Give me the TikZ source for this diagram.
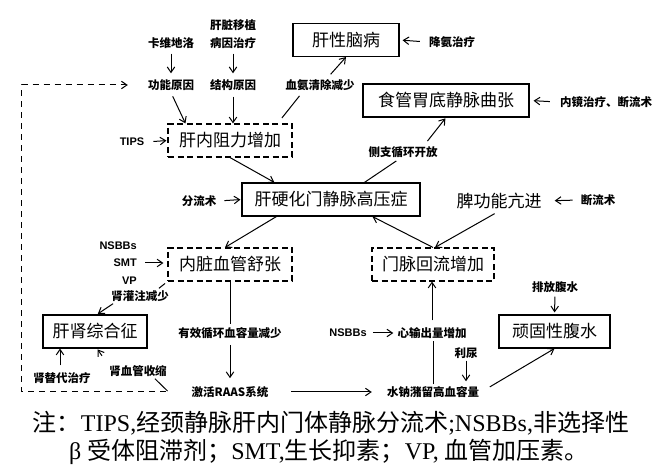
\documentclass[tikz,border=0pt]{standalone}
\usepackage{fontspec}
\setmainfont{Liberation Serif}
\setsansfont{Liberation Sans}
\newfontfamily\cjk{Noto Sans CJK SC}
\usetikzlibrary{arrows.meta}

\begin{document}
\begin{tikzpicture}[x=1pt,y=-1pt,>={Straight Barb[length=5.5pt,width=7.5pt]},
  box/.style={draw,line width=1.1pt,minimum height=33pt,inner sep=0pt,font=\cjk\fontsize{17}{17}\selectfont},
  dbox/.style={box,dash pattern=on 6pt off 3.5pt},
  lbl/.style={inner sep=2pt,font=\cjk\bfseries\fontsize{11.5}{18}\selectfont},
  eng/.style={inner sep=2pt,font=\sffamily\bfseries\fontsize{11}{17.5}\selectfont},
  note/.style={inner sep=0pt,font=\fontsize{24}{29}\selectfont},
  link/.style={line width=1pt},
  arr/.style={link,->},
  fb/.style={link,dash pattern=on 6pt off 5pt}]
  \useasboundingbox (0,0) rectangle (665,465);
  % causes of raised intrahepatic resistance
  \node[lbl] (kwdl) at (171,43) {卡维地洛};
  \node[lbl,align=center] (gzyz) at (233,34) {肝脏移植\\病因治疗};
  \node[lbl] (gnyy) at (171,85) {功能原因};
  \node[lbl] (jgyy) at (233,85) {结构原因};
  \node[lbl] (xaqc) at (320,85) {血氨清除减少};
  \node[box,minimum width=106] (gxnb) at (346,40) {肝性脑病};
  \node[lbl] (jazl) at (452,42) {降氨治疗};
  \node[box,minimum width=166] (sgqz) at (446,100.5) {食管胃底静脉曲张};
  \node[lbl] (njzl) at (606,102) {内镜治疗、断流术};
  \node[lbl] (czxh) at (403,152) {侧支循环开放};
  \node[dbox,minimum width=124] (gnzl) at (230,140.5) {肝内阻力增加};
  \node[eng] (tips) at (132,142) {TIPS};
  % portal hypertension
  \node[box,minimum width=178] (gyh) at (331,199.5) {肝硬化门静脉高压症};
  \node[lbl] (fls) at (199,201) {分流术};
  \node[inner sep=2pt,font=\cjk\fontsize{17}{17}\selectfont] (pgn) at (499,201) {脾功能亢进};
  \node[lbl] (dls) at (598,200) {断流术};
  \node[dbox,minimum width=122] (mmhl) at (433,264.5) {门脉回流增加};
  \node[dbox,minimum width=124] (nzxg) at (230,264.5) {内脏血管舒张};
  \node[eng,align=right,anchor=east] (drug) at (139,263) {NSBBs\\SMT\\VP};
  % kidney and ascites
  \node[lbl] (sgzj) at (140,296) {肾灌注减少};
  \node[box,minimum width=104] (gszh) at (95,331.5) {肝肾综合征};
  \node[lbl] (yxxr) at (230,333) {有效循环血容量减少};
  \node[lbl] (sxjs) at (62,378) {肾替代治疗};
  \node[lbl] (sxgs) at (138,371) {肾血管收缩};
  \node[lbl] (raas) at (230,392) {激活RAAS系统};
  \node[lbl] (snzl) at (433,392) {水钠潴留高血容量};
  \node[lbl] (xscl) at (432,333) {心输出量增加};
  \node[eng] (nsbb) at (348,333) {NSBBs};
  \node[lbl] (ln) at (466,353) {利尿};
  \node[box,minimum width=111] (gxfs) at (554.5,331.5) {顽固性腹水};
  \node[lbl] (pffs) at (555,287) {排放腹水};
  % footnote
  \node[note] (cap1) at (331,423) {{\cjk 注：}TIPS,{\cjk 经颈静脉肝内门体静脉分流术};NSBBs,{\cjk 非选择性}};
  \node[note] (cap2) at (329,452) {β {\cjk 受体阻滞剂；}SMT,{\cjk 生长抑素；}VP, {\cjk 血管加压素。}};

  \draw[arr,shorten <=3pt,shorten >=4pt] (kwdl) -- (gnyy);
  \draw[arr,shorten <=3pt,shorten >=4pt] (gzyz) -- (jgyy);
  \draw[arr,shorten <=4pt] (gnyy.south) -- ([xshift=18]gnzl.north west);
  \draw[arr,shorten <=4pt] (jgyy.south) -- (jgyy.south |- gnzl.north);
  \draw[link,shorten <=7pt,shorten >=4pt] ([xshift=-15]gnzl.north east) -- ([xshift=-18]xaqc.south);
  \draw[arr,shorten <=4pt] ([xshift=8]xaqc.north) -- (gxnb.south);
  \draw[arr,shorten <=7pt,shorten >=3pt] (jazl.west) -- (gxnb.east);
  \draw[arr] (gnzl.south) -- ([xshift=33]gyh.north west);
  \draw[arr,shorten <=7pt,shorten >=1pt] (tips.east) -- (gnzl.west);
  \draw[link,shorten >=2pt] ([xshift=123]gyh.north west) -- ([xshift=-5]czxh.south);
  \draw[arr,shorten <=4pt,shorten >=1pt] ([xshift=22]czxh.north) -- (sgqz.south);
  \draw[arr,shorten <=8pt,shorten >=4pt] (njzl.west) -- (sgqz.east);
  \draw[arr,shorten <=6pt,shorten >=1pt] (fls.east) -- (gyh.west);
  \draw[arr,shorten <=6pt,shorten >=11pt] (dls.west) -- (pgn.east);
  \draw[arr,shorten <=5pt] (pgn.south) -- ([xshift=2]mmhl.north);
  \draw[arr] (mmhl.north) -- ([xshift=131]gyh.south west);
  \draw[arr] ([xshift=35]gyh.south west) -- ([xshift=-5]nzxg.north);
  \draw[arr,shorten <=6pt,shorten >=4pt] (drug.east) -- (drug.east -| nzxg.west);
  \draw[link,shorten <=3pt] (nzxg.south west) -- ([xshift=-12]sgzj.north east);
  \draw[arr,shorten >=1pt] ([xshift=4]sgzj.south west) -- ([xshift=2]gszh.north);
  \draw[link,shorten >=1pt] (nzxg.south) -- (yxxr.north);
  \draw[arr,shorten <=4pt,shorten >=6pt] (yxxr.south) -- (raas.north);
  \draw[link] ([shift={(-22,-1)}]raas.west) -- ([xshift=-14]sxgs.south east);
  \draw[arr,shorten <=9pt,shorten >=1pt] (sxgs.north west) -- ([xshift=2]gszh.south);
  \draw[arr,shorten <=5pt] ([xshift=-2]sxjs.north) -- ([xshift=-35]gszh.south);
  \draw[arr,shorten <=21pt,shorten >=13pt] (raas.east) -- (snzl.west);
  \draw[link] (snzl.north) -- (snzl.north |- xscl.south);
  \draw[arr,shorten <=5pt] (xscl.north) -- (xscl.north |- mmhl.south);
  \draw[arr,shorten <=4pt,shorten >=2pt] (nsbb.east) -- (xscl.west);
  \draw[arr,shorten >=3pt] (ln.south) -- (ln.south |- snzl.north);
  \draw[arr,shorten <=10pt] (snzl.east) -- (gxfs.south);
  \draw[arr,shorten <=2pt,shorten >=2pt] (pffs.south) -- (gxfs.north);
  % feedback of RAAS on functional resistance
  \draw[fb,->] ([xshift=-24]raas.west) -- ++(-144,0) |- ([xshift=-18]gnyy.west);
\end{tikzpicture}
\end{document}
